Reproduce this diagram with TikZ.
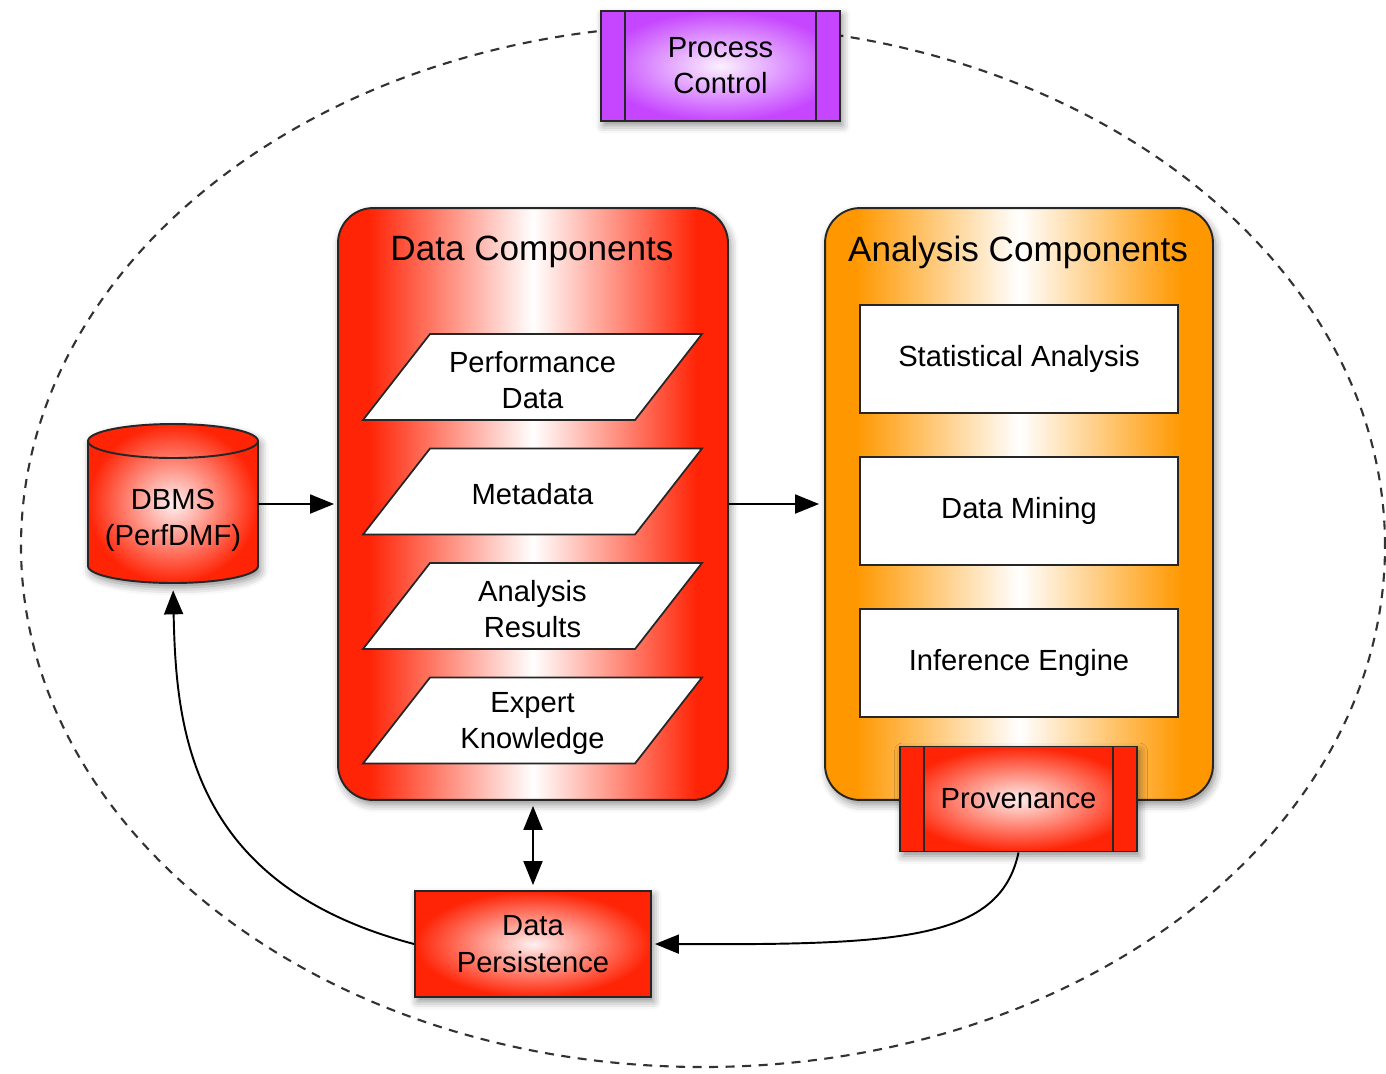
\documentclass[tikz,border=0pt]{standalone}
\usepackage{fontspec}
\setmainfont{Liberation Sans}
\usetikzlibrary{shapes.geometric,arrows.meta,shadows.blur}

\definecolor{boxred}{RGB}{255,36,6}
\definecolor{boxorange}{RGB}{255,152,0}
\definecolor{boxpurple}{RGB}{198,70,255}
\definecolor{palered}{RGB}{255,240,240}
\definecolor{edgegray}{RGB}{38,38,38}
\definecolor{dashgray}{RGB}{50,50,50}

% vertical colour bands: saturated at both sides, white in the middle
\pgfdeclarehorizontalshading{redband}{100bp}{color(0bp)=(boxred); color(25bp)=(boxred); color(29bp)=(boxred); color(50bp)=(white); color(71bp)=(boxred); color(75bp)=(boxred); color(100bp)=(boxred)}
\pgfdeclarehorizontalshading{orangeband}{100bp}{color(0bp)=(boxorange); color(25bp)=(boxorange); color(29bp)=(boxorange); color(50bp)=(white); color(71bp)=(boxorange); color(75bp)=(boxorange); color(100bp)=(boxorange)}

\tikzset{
  softshadow/.style={blur shadow={shadow xshift=0.05cm, shadow yshift=-0.09cm, shadow blur radius=0.16cm, shadow opacity=45}},
  txt/.style={font=\fontsize{16.6}{20.6}\selectfont, align=center, text=black},
  titletxt/.style={font=\fontsize{20}{24}\selectfont, text=black},
  group/.style={draw=edgegray, line width=1.1pt, rounded corners=0.7cm, shade, softshadow,
    minimum width=7.8cm, minimum height=11.84cm},
  fileshape/.style={draw=edgegray, fill=white, line width=1pt},
  whitebox/.style={rectangle, fill=white, draw=edgegray, line width=1pt,
    minimum width=6.36cm, minimum height=2.16cm, txt},
  redbox/.style={rectangle, draw=edgegray, line width=1.1pt, inner color=palered,
    outer color=boxred, softshadow, txt},
  % predefined-process box: solid end bars separated by vertical rules
  barbox/.style={rectangle, draw=edgegray, line width=1.1pt, inner color=#1!8,
    outer color=#1, softshadow, txt,
    path picture={
      \fill[#1] (path picture bounding box.north west) rectangle ([xshift=0.48cm]path picture bounding box.south west);
      \fill[#1] (path picture bounding box.north east) rectangle ([xshift=-0.48cm]path picture bounding box.south east);
      \draw[edgegray, line width=1.1pt] ([xshift=0.48cm]path picture bounding box.north west) -- ([xshift=0.48cm]path picture bounding box.south west);
      \draw[edgegray, line width=1.1pt] ([xshift=-0.48cm]path picture bounding box.north east) -- ([xshift=-0.48cm]path picture bounding box.south east);
    }},
  conn/.style={draw=black, line width=1.1pt, -{Triangle[length=0.48cm, width=0.38cm]}},
  boundary/.style={draw=dashgray, line width=1.2pt, dash pattern=on 0.18cm off 0.15cm},
}

% data item: white parallelogram centred at height #2 with its label node #1
\newcommand\datafile[3]{%
  \filldraw[fileshape] (430,-#2+43) -- (702,-#2+43) -- (635,-#2-43) -- (363,-#2-43) -- cycle;
  \node[txt] (#1) at (532.5,-#2-3) {#3};}

\begin{document}
\begin{tikzpicture}[x=0.02cm, y=0.02cm]
\useasboundingbox (0,0) rectangle (1386,-1073);

% enclosing boundary
\draw[boundary] (703,-546) ellipse [x radius=682, y radius=521];

% process control on the boundary
\node[barbox=boxpurple, minimum width=4.78cm, minimum height=2.2cm] (pc) at (720.5,-66) {Process\\Control};

% data components group
\node[group, shading=redband] (data) at (533,-504) {};
\node[titletxt] (datatitle) at (532,-252) {Data Components};
\datafile{perf}{377}{Performance\\Data}
\datafile{meta}{491.5}{Metadata}
\datafile{results}{606}{Analysis\\Results}
\datafile{expert}{720.5}{Expert\\Knowledge}

% analysis components group
\node[group, shading=orangeband, minimum width=7.76cm] (analysis) at (1019,-504) {};
\node[titletxt] (analysistitle) at (1018,-252) {Analysis Components};
\node[whitebox] (stats) at (1019,-359) {Statistical Analysis};
\node[whitebox] (mining) at (1019,-511) {Data Mining};
\node[whitebox] (inference) at (1019,-663) {Inference Engine};
\node[barbox=boxred, minimum width=4.74cm, minimum height=2.1cm] (prov) at (1018.5,-799) {Provenance};

% database cylinder
\shade[inner color=palered, outer color=boxred, softshadow]
  (88,-441) -- (88,-566) arc[start angle=180, end angle=360, x radius=85, y radius=17]
  -- (258,-441) arc[start angle=0, end angle=180, x radius=85, y radius=17] -- cycle;
\draw[edgegray, line width=1.1pt]
  (88,-441) -- (88,-566) arc[start angle=180, end angle=360, x radius=85, y radius=17] -- (258,-441);
\draw[edgegray, line width=1.1pt] (173,-441) ellipse [x radius=85, y radius=17];
\node[txt, minimum width=3.4cm, minimum height=2.52cm] (dbms) at (173,-520) {DBMS\\(PerfDMF)};

% persistence layer
\node[redbox, minimum width=4.72cm, minimum height=2.12cm] (persist) at (533,-944) {Data\\Persistence};

% connectors
\draw[conn, shorten >=0.06cm] (dbms.east |- data.west) -- (data.west);
\draw[conn, shorten >=0.1cm] (data.east) -- (analysis.west);
\draw[conn, {Triangle[length=0.48cm, width=0.38cm]}-{Triangle[length=0.48cm, width=0.38cm]},
  shorten <=0.1cm, shorten >=0.1cm] (data.south) -- (persist.north);
\draw[conn, shorten >=0.06cm] (prov.south) .. controls (1000,-940) and (900,-945) .. (persist.east);
\draw[conn, shorten >=0.14cm] (persist.west) .. controls (190,-885) and (176,-730) .. (dbms.south);
\end{tikzpicture}
\end{document}
